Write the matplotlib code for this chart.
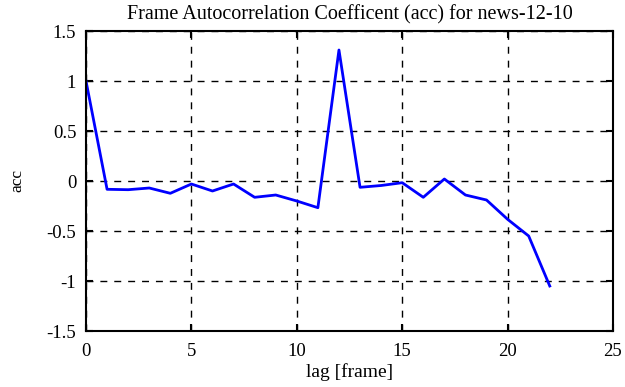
import numpy as np
import matplotlib.pyplot as plt

# lag values and autocorrelation coefficients
lag = list(range(23))
acc = [1.0, -0.083, -0.087, -0.07, -0.123, -0.03, -0.1, -0.03, -0.163, -0.14,
       -0.2, -0.267, 1.31, -0.063, -0.045, -0.017, -0.163, 0.02, -0.14, -0.19,
       -0.383, -0.55, -1.05]

x_ticks = [0, 5, 10, 15, 20, 25]
y_ticks = [-1.5, -1, -0.5, 0, 0.5, 1, 1.5]
y_labels = ['-1.5', '-1', '-0.5', '0', '0.5', '1', '1.5']

plt.rcParams['font.family'] = ['Liberation Serif', 'DejaVu Serif']

fig = plt.figure(figsize=(6.25, 3.87), dpi=100)
ax = fig.add_axes([86 / 625, 1 - 331 / 387, 527 / 625, 300 / 387])

ax.plot(lag, acc, color='#0000ff', linewidth=2)

ax.set_xlim(0, 25)
ax.set_ylim(-1.5, 1.5)
ax.set_xticks(x_ticks)
ax.set_yticks(y_ticks)
ax.set_yticklabels(y_labels)
ax.tick_params(direction='in', top=True, right=True, labelsize=13.5, length=5, width=1.5)
ax.tick_params(axis='x', pad=9)
ax.tick_params(axis='y', pad=7)
for s in ax.spines.values():
    s.set_linewidth(1.5)
ax.grid(True, color='black', linestyle=(0, (5, 5)), linewidth=1)

ax.set_title('Frame Autocorrelation Coefficent (acc) for news-12-10', fontsize=14.5, pad=8)
ax.set_xlabel('lag [frame]', fontsize=14, labelpad=2)
ax.set_ylabel('acc', fontsize=12.5, labelpad=15)

fig.savefig('out.png', dpi=100)
